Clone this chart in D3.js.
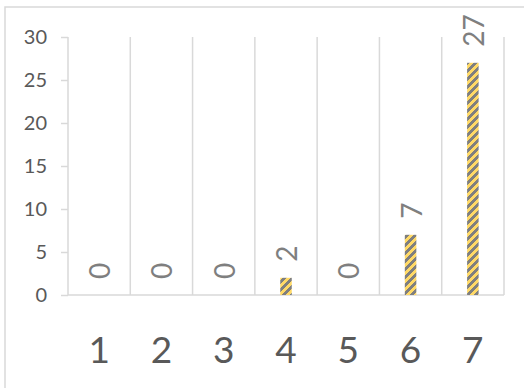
<!DOCTYPE html>
<html>
<head>
<meta charset="utf-8">
<script src="https://cdn.jsdelivr.net/npm/d3@7"></script>
<style>
  html, body { margin: 0; padding: 0; background: #fff; }
  svg { display: block; }
  text { font-family: Lato, "Open Sans", sans-serif; }
</style>
</head>
<body>
<div id="chart"></div>
<script>
// Counts per category
const categories = ["1", "2", "3", "4", "5", "6", "7"];
const values = [0, 0, 0, 2, 0, 7, 27];
const yTicks = [0, 5, 10, 15, 20, 25, 30];

const W = 524, H = 388;
const plot = { left: 68, right: 504, top: 37, bottom: 295 };

const svg = d3.select("#chart").append("svg")
  .attr("width", W).attr("height", H);

// Yellow / grey upward-diagonal hatch fill
const defs = svg.append("defs");
const pat = defs.append("pattern")
  .attr("id", "hatch")
  .attr("patternUnits", "userSpaceOnUse")
  .attr("width", 8).attr("height", 8);
pat.append("rect").attr("width", 8).attr("height", 8).attr("fill", "#ffd966");
const cells = [];
for (let py = 0; py < 8; py++)
  for (let px = 0; px < 8; px++)
    if ((px + py) % 8 < 4) cells.push([px, py]);
pat.selectAll("rect.c").data(cells).join("rect")
  .attr("class", "c")
  .attr("x", d => d[0]).attr("y", d => d[1])
  .attr("width", 1).attr("height", 1)
  .attr("fill", "#7f7f7f")
  .attr("shape-rendering", "crispEdges");

// Chart frame
svg.append("rect")
  .attr("x", 5).attr("y", 7)
  .attr("width", W + 10).attr("height", H + 10)
  .attr("fill", "none")
  .attr("stroke", "#d9d9d9").attr("stroke-width", 1.5);

const x = d3.scaleBand().domain(categories).range([plot.left, plot.right]).padding(0);
const y = d3.scaleLinear().domain([0, 30]).range([plot.bottom, plot.top]);

// Vertical gridlines at category boundaries
const bounds = categories.map(c => x(c)).concat([x.range()[1]]);
svg.append("g").selectAll("line").data(bounds).join("line")
  .attr("x1", d => d).attr("x2", d => d)
  .attr("y1", y(30)).attr("y2", y(0))
  .attr("stroke", "#d9d9d9").attr("stroke-width", 1.5);

// Y axis
const yAxis = svg.append("g")
  .attr("transform", `translate(${plot.left},0)`)
  .call(d3.axisLeft(y).tickValues(yTicks).tickSize(7).tickPadding(14));
yAxis.select(".domain").remove();
yAxis.selectAll(".tick line").attr("stroke", "#d9d9d9").attr("stroke-width", 1.5);
yAxis.selectAll(".tick text")
  .attr("fill", "#595959").attr("font-size", 20)
  .attr("font-family", "Lato, sans-serif");

// Baseline
svg.append("line")
  .attr("x1", plot.left).attr("x2", plot.right)
  .attr("y1", y(0)).attr("y2", y(0))
  .attr("stroke", "#d9d9d9").attr("stroke-width", 1.5);

// X axis category labels
const xAxis = svg.append("g")
  .attr("transform", `translate(0,${plot.bottom})`)
  .call(d3.axisBottom(x).tickSize(0).tickPadding(42));
xAxis.select(".domain").remove();
xAxis.selectAll(".tick text")
  .attr("fill", "#595959").attr("font-size", 37)
  .attr("font-family", "Lato, sans-serif");

// Bars
const barW = x.bandwidth() * 0.185;
svg.append("g").selectAll("rect").data(values).join("rect")
  .attr("x", (d, i) => x(categories[i]) + x.bandwidth() / 2 - barW / 2)
  .attr("y", d => y(d))
  .attr("width", barW)
  .attr("height", d => y(0) - y(d))
  .attr("fill", "url(#hatch)");

// Rotated value labels
svg.append("g").selectAll("text").data(values).join("text")
  .attr("transform", (d, i) =>
    `translate(${x(categories[i]) + x.bandwidth() / 2 + 11},${y(d) - 16}) rotate(-90)`)
  .attr("text-anchor", "start")
  .attr("fill", "#7f7f7f")
  .attr("font-size", 28)
  .text(d => d);
</script>
</body>
</html>
